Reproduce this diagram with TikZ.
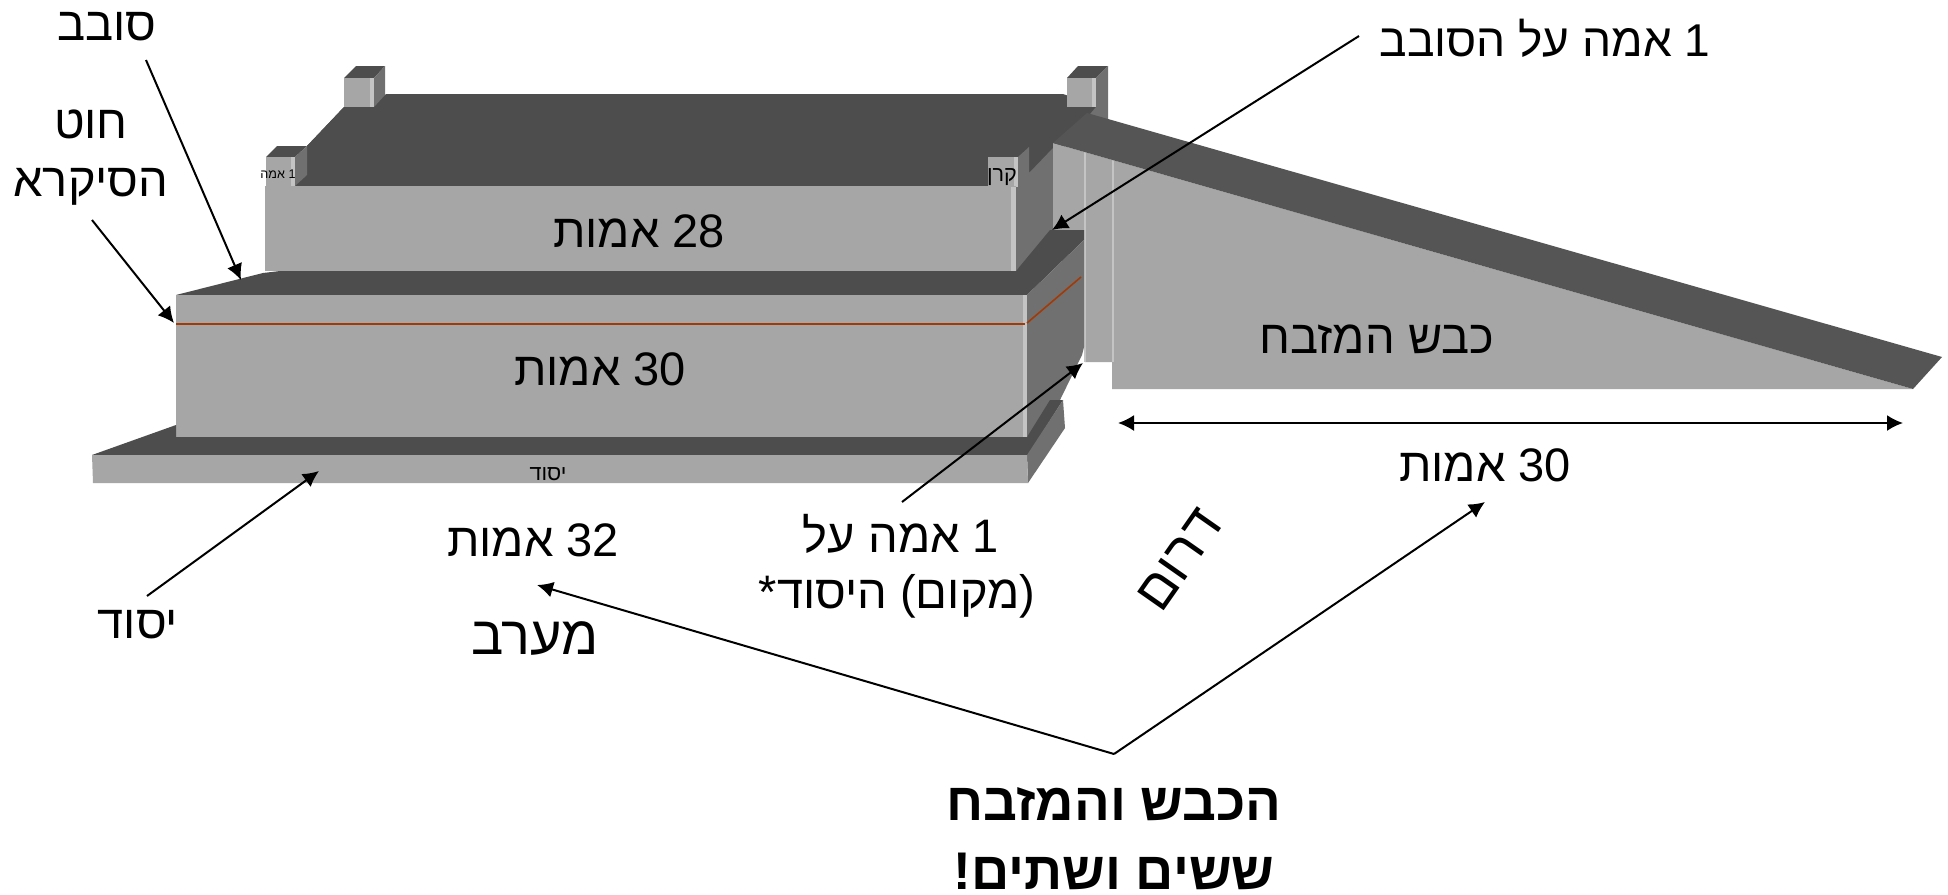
\documentclass[tikz,border=0pt]{standalone}
\usepackage{fontspec}
\usetikzlibrary{arrows.meta}
\TeXXeTstate=1
\newfontfamily\hefont[Script=Hebrew]{Liberation Sans}
\newcommand{\he}[1]{{\hefont\beginR #1\endR}}
\newcommand{\num}[1]{\beginL #1\endL{}}
\definecolor{lite}{HTML}{A6A6A6}
\definecolor{dark}{HTML}{4D4D4D}
\definecolor{midg}{HTML}{707070}
\definecolor{rampg}{HTML}{555555}
\definecolor{strip}{HTML}{C4C4C4}
\definecolor{redl}{HTML}{A33A06}
\tikzset{
  x=0.5pt,y=-0.5pt,
  label text/.style={font=\fontsize{23.5}{26}\selectfont,inner sep=0pt,text=black},
  big text/.style={font=\fontsize{27}{30}\selectfont,inner sep=0pt,text=black},
  bold text/.style={font=\fontsize{26.5}{30}\selectfont\bfseries,inner sep=0pt,text=black},
  small text/.style={font=\fontsize{10.8}{12}\selectfont,inner sep=0pt,text=black},
  pointer/.style={draw=black,line width=1pt,-{Latex[length=8pt,width=8pt]}},
  span/.style={draw=black,line width=1pt,{Latex[length=8pt,width=8pt]}-{Latex[length=8pt,width=8pt]}}
}
\begin{document}
\begin{tikzpicture}
\path[use as bounding box,fill=white] (0,0) rectangle (1948,894);
% top block, top face
\fill[dark] (295,186) -- (307,146) -- (344,107) -- (387,94) -- (1063,94) -- (1100,107) -- (1053,160) -- (1029,186) -- cycle;
\fill[dark] (307,146) -- (344,107) -- (374,107) -- (295,186) -- cycle;
% far horns
\fill[dark] (344,78) -- (356,66) -- (385,66) -- (374,78) -- cycle;
\fill[midg] (374,78) -- (385,66) -- (385,95) -- (374,107) -- cycle;
\fill[lite] (344,78) rectangle (374,107);
\fill[strip] (370,78) rectangle (374,107);
\fill[dark] (1067,78) -- (1078,66) -- (1108,66) -- (1096,78) -- cycle;
\fill[midg] (1096,78) -- (1108,66) -- (1108,120) -- (1085,120) -- (1096,107) -- cycle;
\fill[lite] (1067,78) rectangle (1096,107);
\fill[strip] (1092,78) rectangle (1096,107);
% near horns
\fill[dark] (266,157) -- (277,146) -- (307,146) -- (295,157) -- cycle;
\fill[midg] (295,157) -- (307,146) -- (307,175) -- (295,186) -- cycle;
\fill[lite] (266,157) rectangle (295,187);
\fill[strip] (291,157) rectangle (295,187);
\fill[lite] (988,157) rectangle (1018,187);
\fill[strip] (1014,157) rectangle (1018,187);
% top block
\fill[midg] (1018,157) -- (1029,147) -- (1029,173) -- (1053,148) -- (1053,235) -- (1016,271) -- (1016,187) -- (1018,187) -- cycle;
\fill[lite] (265,186) rectangle (1016,271);
\fill[strip] (1011,187) rectangle (1016,271);
% ramp
\fill[lite] (1053,143) -- (1913,389) -- (1112,389) -- (1112,362) -- (1085,362) -- (1085,230) -- (1053,230) -- cycle;
\draw[strip,line width=1pt] (1085,152) -- (1085,362);
\draw[strip,line width=1pt] (1113,160) -- (1113,362);
\fill[rampg] (1053,143) -- (1087,113) -- (1942,357) -- (1913,389) -- cycle;
% middle block
\fill[dark] (176,295) -- (263,273) -- (280,271) -- (1016,271) -- (1050,230) -- (1084,230) -- (1084,240) -- (1027,295) -- cycle;
\fill[midg] (1027,295) -- (1084,240) -- (1084,347) -- (1082,355) -- (1060,400) -- (1027,437) -- cycle;
\fill[lite] (176,295) rectangle (1027,437);
\fill[strip] (1023,295) rectangle (1027,437);
\draw[redl,line width=0.8pt] (176,324) -- (1025,324);
\draw[redl,line width=0.8pt] (1027,323) -- (1081,277);
% base
\fill[dark] (92,455) -- (176,425) -- (176,437) -- (1027,437) -- (1050,400) -- (1063,400) -- (1028,455) -- cycle;
\fill[midg] (1027,455) -- (1063,400) -- (1065,428) -- (1028,483) -- cycle;
\fill[lite] (92,455) -- (1027,455) -- (1028,483) -- (93,483) -- cycle;
% texts
\node[label text] (tSovev) at (107,27) {\he{סובב}};
\node[label text] (tHut) at (91,124) {\he{חוט}};
\node[label text] (tSikra) at (91,187) {\he{הסיקרא}};
\node[label text,font=\fontsize{23}{26}\selectfont] (tOnSovev) at (1545,38) {\he{\num{1} אמה על הסובב}};
\node[label text] (t28) at (639,231) {\he{\num{28} אמות}};
\node[label text] (t30a) at (600,369) {\he{\num{30} אמות}};
\node[label text] (tKevesh) at (1377,339) {\he{כבש המזבח}};
\node[label text] (t30b) at (1485,465) {\he{\num{30} אמות}};
\node[label text] (t32) at (533,540) {\he{\num{32} אמות}};
\node[label text] (tOnYesod) at (901,534) {\he{\num{1} אמה על}};
\node[label text] (tMakom) at (897,596) {\he{(מקום) היסוד*}};
\node[label text] (tYesod) at (138,625) {\he{יסוד}};
\node[big text] (tMaarav) at (535,638) {\he{מערב}};
\node[big text,rotate=55] (tDarom) at (1180,560) {\he{דרום}};
\node[bold text] (tBold1) at (1114,804) {\he{הכבש והמזבח}};
\node[bold text] (tBold2) at (1114,871) {\he{ששים ושתים!}};
\node[small text] (sYesod) at (548,474) {\he{יסוד}};
\node[small text] (sKeren) at (1002,177) {\he{קרן}};
\node[small text,font=\fontsize{6.3}{8}\selectfont] (sAma) at (278,174) {\he{\num{1} אמה}};
% arrows
\coordinate (tipSovev) at (241,280);
\coordinate (tipSikra) at (174,323);
\coordinate (tipOnSovev) at (1052,230);
\coordinate (tipOnYesod) at (1083,363);
\coordinate (tipYesod) at (319,471);
\coordinate (spanL) at (1118,423);
\coordinate (spanR) at (1903,423);
\coordinate (apex) at (1114,754);
\coordinate (tipWest) at (537,585);
\coordinate (tipSouth) at (1485,502);
\draw[pointer] ([shift={(39,33)}]tSovev.center) -- (tipSovev);
\draw[pointer] ([shift={(1,33)}]tSikra.center) -- (tipSikra);
\draw[pointer] ([shift={(-186,-2)}]tOnSovev.center) -- (tipOnSovev);
\draw[pointer] ([shift={(1,-32)}]tOnYesod.center) -- (tipOnYesod);
\draw[pointer] ([shift={(9,-29)}]tYesod.center) -- (tipYesod);
\draw[span] (spanL) -- (spanR);
\draw[pointer] (apex) -- (tipWest);
\draw[pointer] (apex) -- (tipSouth);
\end{tikzpicture}
\end{document}
